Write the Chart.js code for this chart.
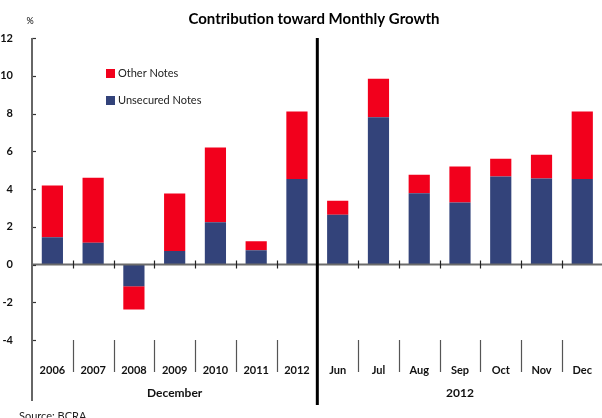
<!DOCTYPE html>
<html>
<head>
<meta charset="utf-8">
<script src="https://cdn.jsdelivr.net/npm/chart.js@4"></script>
<style>
  html, body { margin: 0; padding: 0; background: #fff; overflow: hidden; }
  #wrap { width: 602px; height: 418px; position: relative; overflow: hidden; }
</style>
</head>
<body>
<div id="wrap"><canvas id="chart" width="608" height="418"></canvas></div>
<script>
const categories = ['2006', '2007', '2008', '2009', '2010', '2011', '2012', 'Jun', 'Jul', 'Aug', 'Sep', 'Oct', 'Nov', 'Dec'];
const unsecuredNotes = [1.45, 1.15, -1.15, 0.72, 2.24, 0.76, 4.53, 2.64, 7.8, 3.77, 3.28, 4.66, 4.55, 4.53];
const otherNotes = [2.73, 3.45, -1.23, 3.04, 3.96, 0.47, 3.57, 0.74, 2.04, 0.99, 1.91, 0.94, 1.27, 3.57];
const groupLabels = ['December', '2012'];
const groupRanges = [[0, 6], [7, 13]];
const yMin = -4, yMax = 12, yStep = 2;

const FONT = 'Lato, "DejaVu Sans", sans-serif';
const RED = '#f2001c';
const BLUE = '#33437a';

// extra drawing: zero line, inner ticks, separators, legend, titles
const decorations = {
    id: 'decorations',
    afterDatasetsDraw(chart) {
        const ctx = chart.ctx;
        const area = chart.chartArea;
        const x = chart.scales.x;
        const y = chart.scales.y;
        const y0 = y.getPixelForValue(0);
        const half = (x.getPixelForValue(1) - x.getPixelForValue(0)) / 2;
        ctx.save();

        // zero line with category ticks
        ctx.strokeStyle = '#6b6b6b';
        ctx.lineWidth = 2;
        ctx.beginPath();
        ctx.moveTo(area.left, y0);
        ctx.lineTo(area.right, y0);
        ctx.stroke();
        ctx.lineWidth = 1.2;
        ctx.strokeStyle = '#222';
        for (let i = 0; i < categories.length - 1; i++) {
            const bx = Math.round(x.getPixelForValue(i) + half) + 0.5;
            ctx.beginPath();
            ctx.moveTo(bx, y0 - 4);
            ctx.lineTo(bx, y0 + 4);
            ctx.stroke();
        }

        // y axis ticks on inside
        ctx.strokeStyle = '#333';
        ctx.lineWidth = 1.2;
        for (let v = yMin; v <= yMax; v += yStep) {
            const py = Math.round(y.getPixelForValue(v)) + 0.5;
            ctx.beginPath();
            ctx.moveTo(area.left, py);
            ctx.lineTo(area.left + 4, py);
            ctx.stroke();
        }

        // left axis line extended down
        ctx.strokeStyle = '#666';
        ctx.lineWidth = 2;
        ctx.beginPath();
        ctx.moveTo(area.left, area.top);
        ctx.lineTo(area.left, 401);
        ctx.stroke();

        // separators between category labels
        ctx.strokeStyle = '#555';
        ctx.lineWidth = 1.2;
        for (let i = 0; i < categories.length - 1; i++) {
            if (i === 6) continue;
            const bx = Math.round(x.getPixelForValue(i) + half) + 0.5;
            ctx.beginPath();
            ctx.moveTo(bx, area.bottom);
            ctx.lineTo(bx, 372);
            ctx.stroke();
        }

        // divider between December and 2012 monthly
        const dx = x.getPixelForValue(6) + half;
        ctx.strokeStyle = '#000';
        ctx.lineWidth = 3;
        ctx.beginPath();
        ctx.moveTo(dx, area.top);
        ctx.lineTo(dx, 405);
        ctx.stroke();

        // group labels
        ctx.fillStyle = '#111';
        ctx.font = 'bold 12px ' + FONT;
        ctx.textAlign = 'center';
        ctx.textBaseline = 'middle';
        groupLabels.forEach((lbl, i) => {
            const [a, b] = groupRanges[i];
            const cx = (x.getPixelForValue(a) + x.getPixelForValue(b)) / 2;
            ctx.fillText(lbl, cx, 393);
        });

        // legend
        const legendItems = [[otherNotes, RED, chart.data.datasets[1].label], [unsecuredNotes, BLUE, chart.data.datasets[0].label]];
        ctx.font = '11px ' + FONT;
        ctx.textAlign = 'left';
        legendItems.forEach((item, i) => {
            const ly = 69 + i * 27;
            ctx.fillStyle = item[1];
            ctx.fillRect(106, ly, 9, 9);
            ctx.fillStyle = '#222';
            ctx.fillText(item[2], 118, ly + 4.5);
        });

        // title
        ctx.fillStyle = '#000';
        ctx.font = 'bold 15px ' + FONT;
        ctx.textAlign = 'center';
        ctx.fillText('Contribution toward Monthly Growth', 314, 19);

        // unit
        ctx.font = '9px ' + FONT;
        ctx.fillText('%', 30, 21);

        // source
        ctx.font = '11px ' + FONT;
        ctx.textAlign = 'left';
        ctx.fillStyle = '#222';
        ctx.fillText('Source: BCRA', 19, 416);

        ctx.restore();
    }
};

new Chart(document.getElementById('chart').getContext('2d'), {
    type: 'bar',
    data: {
        labels: categories,
        datasets: [
            {
                label: 'Unsecured Notes',
                data: unsecuredNotes,
                backgroundColor: BLUE,
                borderWidth: 0,
                categoryPercentage: 1,
                barPercentage: 0.52
            },
            {
                label: 'Other Notes',
                data: otherNotes,
                backgroundColor: RED,
                borderWidth: 0,
                categoryPercentage: 1,
                barPercentage: 0.52
            }
        ]
    },
    options: {
        responsive: false,
        animation: false,
        layout: { padding: { top: 38, right: 0, left: 0, bottom: 0 } },
        plugins: {
            legend: { display: false },
            title: { display: false },
            tooltip: { enabled: false }
        },
        scales: {
            x: {
                stacked: true,
                grid: { display: false },
                border: { display: false },
                ticks: {
                    padding: 16,
                    color: '#111',
                    font: { family: FONT, size: 11, weight: 'bold' },
                    maxRotation: 0,
                    autoSkip: false
                },
                afterFit(scale) { scale.height = 78; }
            },
            y: {
                stacked: true,
                min: yMin,
                max: yMax,
                grid: { display: false },
                border: { display: false },
                ticks: {
                    stepSize: yStep,
                    padding: 11,
                    color: '#111',
                    font: { family: FONT, size: 11, weight: 'bold' }
                },
                afterFit(scale) { scale.width = 32; }
            }
        }
    },
    plugins: [decorations]
});
</script>
</body>
</html>
